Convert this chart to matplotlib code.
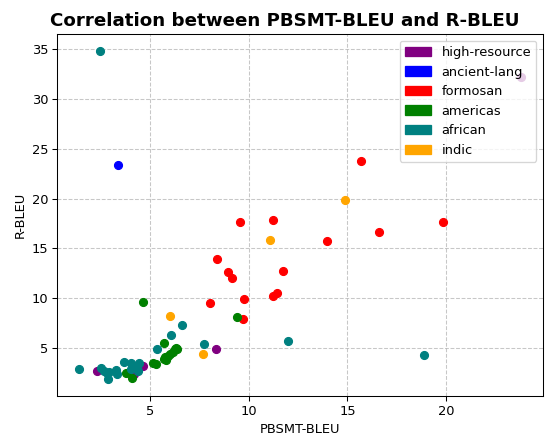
import matplotlib
matplotlib.use("Agg")
import matplotlib.pyplot as plt
import matplotlib.patches as mpatches

# Werte je Gruppe (PBSMT-BLEU, R-BLEU)
groups = ["high-resource", "ancient-lang", "formosan", "americas", "african", "indic"]
colors = ["purple", "blue", "red", "green", "teal", "orange"]

high_x = [2.28, 4.18, 4.66, 8.34, 23.8]
high_y = [2.76, 2.43, 3.2, 4.97, 32.2]

ancient_x = [3.37]
ancient_y = [23.4]

formosan_x = [15.71, 9.56, 11.22, 13.98, 16.6, 19.85, 8.40, 8.96, 9.17, 11.72,
              9.76, 11.21, 11.41, 8.03, 9.73]
formosan_y = [23.76, 17.6, 17.8, 15.7, 16.6, 17.6, 13.9, 12.6, 12.06, 12.7,
              9.96, 10.26, 10.5, 9.53, 7.98]

americas_x = [9.42, 4.66, 5.71, 3.76, 4.07, 5.12, 5.29, 6.24, 6.36, 6.14,
              6.02, 5.89, 5.75, 5.68, 5.8, 6.3]
americas_y = [8.18, 9.6, 5.53, 2.53, 2.05, 3.56, 3.43, 4.9, 4.95, 4.66,
              4.43, 4.23, 4.16, 3.96, 3.83, 5.0]

african_x = [2.45, 6.62, 6.07, 5.34, 7.75, 11.97, 18.86, 1.41, 2.52, 2.65,
             2.83, 2.84, 2.91, 3.27, 3.3, 3.67, 4.05, 4.32, 4.44, 4.36, 4.05]
african_y = [34.8, 7.3, 6.3, 4.96, 5.48, 5.73, 4.33, 2.93, 3.0, 2.76,
             2.5, 1.9, 2.66, 2.85, 2.4, 3.63, 3.48, 3.05, 3.48, 2.76, 2.93]

indic_x = [14.87, 11.09, 6.02, 7.66]
indic_y = [19.9, 15.8, 8.23, 4.45]

xs = [high_x, ancient_x, formosan_x, americas_x, african_x, indic_x]
ys = [high_y, ancient_y, formosan_y, americas_y, african_y, indic_y]

dpi = 94
fig = plt.figure(figsize=(546 / dpi, 438 / dpi), dpi=dpi)
ax = fig.add_axes([57.3 / 546, 42.3 / 438, 485.7 / 546, 361.4 / 438])

for x, y, c in zip(xs, ys, colors):
    ax.scatter(x, y, color=c, s=36, zorder=2)

ax.grid(True, linestyle="--", alpha=0.7, zorder=0)
ax.set_axisbelow(True)
ax.set_xlabel("PBSMT-BLEU")
ax.set_ylabel("R-BLEU")
ax.set_title("Correlation between PBSMT-BLEU and R-BLEU", fontsize=14,
             fontweight="bold", x=0.469)

handles = [mpatches.Patch(color=c, label=g) for g, c in zip(groups, colors)]
ax.legend(handles=handles, loc="upper right")

fig.savefig("out.png", dpi=dpi)
